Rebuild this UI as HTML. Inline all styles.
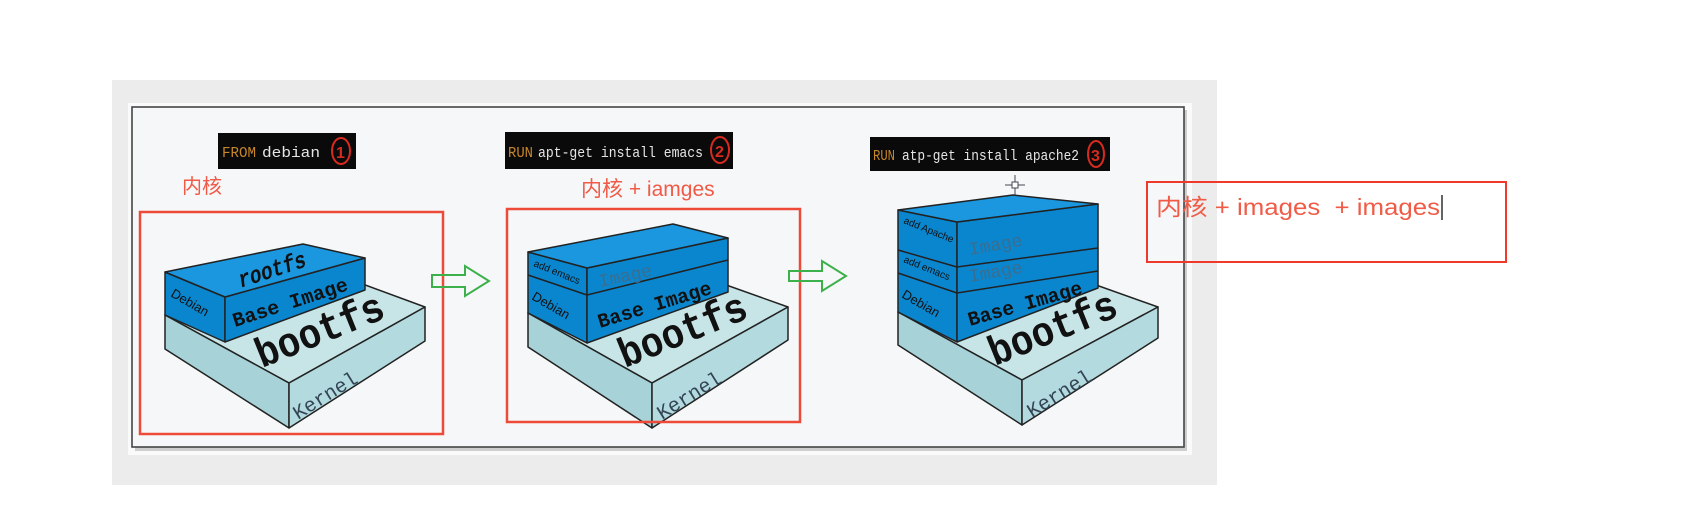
<!DOCTYPE html>
<html><head><meta charset="utf-8"><style>
html,body{margin:0;padding:0;background:#fff;width:1707px;height:522px;overflow:hidden}
</style></head><body>
<svg width="1707" height="522" viewBox="0 0 1707 522" xmlns="http://www.w3.org/2000/svg" font-family="Liberation Sans, Noto Sans CJK SC, sans-serif">
<rect x="112" y="80" width="1105" height="405" fill="#ececec"/>
<rect x="128" y="103" width="1064" height="352" fill="#fafafa"/>
<rect x="135" y="110" width="1052" height="341" fill="#b0b0b0" opacity="0.6"/>
<rect x="132" y="107" width="1052" height="340" fill="#f6f7f8" stroke="#444" stroke-width="1.6"/>

<!-- labels -->
<g font-family="Liberation Mono, monospace" font-size="15">
<rect x="218" y="133" width="138" height="36" fill="#0a0a0a"/>
<text x="222" y="157" fill="#c8862a" textLength="34" lengthAdjust="spacingAndGlyphs">FROM</text>
<text x="262" y="157" fill="#e6e6e6" textLength="58" lengthAdjust="spacingAndGlyphs">debian</text>
<ellipse cx="341" cy="151" rx="9" ry="13" fill="none" stroke="#d82a1e" stroke-width="2"/>
<text x="336" y="158" fill="#d82a1e" font-size="16" font-family="Liberation Sans, sans-serif" font-weight="bold">1</text>

<rect x="505" y="132" width="228" height="37" fill="#0a0a0a"/>
<text x="508" y="157" fill="#c8862a" textLength="25" lengthAdjust="spacingAndGlyphs">RUN</text>
<text x="538" y="157" fill="#e6e6e6" textLength="165" lengthAdjust="spacingAndGlyphs">apt-get install emacs</text>
<ellipse cx="720" cy="150" rx="9" ry="13" fill="none" stroke="#d82a1e" stroke-width="2"/>
<text x="715" y="157" fill="#d82a1e" font-size="16" font-family="Liberation Sans, sans-serif" font-weight="bold">2</text>

<rect x="870" y="137" width="240" height="34" fill="#0a0a0a"/>
<text x="873" y="160" fill="#c8862a" textLength="22" lengthAdjust="spacingAndGlyphs">RUN</text>
<text x="902" y="160" fill="#e6e6e6" textLength="177" lengthAdjust="spacingAndGlyphs">atp-get install apache2</text>
<ellipse cx="1096" cy="154" rx="8" ry="13" fill="none" stroke="#d82a1e" stroke-width="2"/>
<text x="1091" y="161" fill="#d82a1e" font-size="16" font-family="Liberation Sans, sans-serif" font-weight="bold">3</text>
</g>

<text x="182" y="193" fill="#f05a46" font-size="20">内核</text>
<text x="581" y="196" fill="#f05a46" font-size="21">内核 + iamges</text>

<!-- STAGE 1 -->
<g stroke="#222" stroke-width="1.5" stroke-linejoin="round">
<polygon points="165,315 289,383 425,307 303,262" fill="#c7e4e7"/>
<polygon points="165,315 289,383 289,428 165,349" fill="#a7d2d7"/>
<polygon points="289,383 425,307 425,341 289,428" fill="#b3dade"/>
</g>
<text transform="translate(262,368) rotate(-22)" font-family="Liberation Mono, monospace" font-size="42" font-weight="bold" fill="#111" textLength="135" lengthAdjust="spacingAndGlyphs">bootfs</text>
<g stroke="#222" stroke-width="1.5" stroke-linejoin="round">
<polygon points="165,272 225,297 225,342 165,315" fill="#0a86cf"/>
<polygon points="225,297 365,258 365,290 225,342" fill="#0a86cf"/>
<polygon points="165,272 225,297 365,258 303,244" fill="#1a97de"/>
</g>
<g font-family="Liberation Mono, monospace" fill="#111">
<text transform="translate(240,288) rotate(-18) skewX(-10)" font-size="24" font-weight="bold" textLength="70" lengthAdjust="spacingAndGlyphs">rootfs</text>
<text transform="translate(170,296) rotate(30)" font-size="13" font-family="Liberation Sans, sans-serif">Debian</text>
<text transform="translate(235,327) rotate(-18)" font-size="20" font-weight="bold" textLength="120" lengthAdjust="spacingAndGlyphs">Base Image</text>
<text transform="translate(298,420) rotate(-32)" font-size="20" fill="#345">Kernel</text>
</g>
<rect x="140" y="212" width="303" height="222" fill="none" stroke="#ee4a3a" stroke-width="2.5"/>
<polygon points="432,275 465,275 465,266 489,281 465,296 465,287 432,287" fill="none" stroke="#3cb04a" stroke-width="2"/>

<!-- STAGE 2 -->
<g stroke="#222" stroke-width="1.5" stroke-linejoin="round">
<polygon points="528,313 652,383 788,307 670,265" fill="#c7e4e7"/>
<polygon points="528,313 652,383 652,428 528,347" fill="#a7d2d7"/>
<polygon points="652,383 788,307 788,340 652,428" fill="#b3dade"/>
</g>
<text transform="translate(625,368) rotate(-22)" font-family="Liberation Mono, monospace" font-size="42" font-weight="bold" fill="#111" textLength="135" lengthAdjust="spacingAndGlyphs">bootfs</text>
<g stroke="#222" stroke-width="1.5" stroke-linejoin="round">
<polygon points="528,252 587,268 587,343 528,313" fill="#0a86cf"/>
<polygon points="587,268 728,238 728,292 587,343" fill="#0a86cf"/>
<polygon points="528,252 587,268 728,238 673,224" fill="#1a97de"/>
<polyline points="528,275 587,295 728,260" fill="none"/>
</g>
<g font-family="Liberation Mono, monospace" fill="#111">
<text transform="translate(533,266) rotate(22)" font-size="10" font-family="Liberation Sans, sans-serif">add emacs</text>
<text transform="translate(600,287) rotate(-12)" font-size="18" fill="#3a6e90">Image</text>
<text transform="translate(531,299) rotate(30)" font-size="13" font-family="Liberation Sans, sans-serif">Debian</text>
<text transform="translate(600,328) rotate(-17)" font-size="20" font-weight="bold" textLength="118" lengthAdjust="spacingAndGlyphs">Base Image</text>
<text transform="translate(662,420) rotate(-32)" font-size="20" fill="#345">Kernel</text>
</g>
<rect x="507" y="209" width="293" height="213" fill="none" stroke="#ee4a3a" stroke-width="2.5"/>
<polygon points="789,271 822,271 822,261 846,276 822,291 822,281 789,281" fill="none" stroke="#3cb04a" stroke-width="2"/>

<!-- STAGE 3 -->
<g stroke="#222" stroke-width="1.5" stroke-linejoin="round">
<polygon points="898,312 1022,380 1158,307 1040,265" fill="#c7e4e7"/>
<polygon points="898,312 1022,380 1022,425 898,345" fill="#a7d2d7"/>
<polygon points="1022,380 1158,307 1158,338 1022,425" fill="#b3dade"/>
</g>
<text transform="translate(995,366) rotate(-22)" font-family="Liberation Mono, monospace" font-size="42" font-weight="bold" fill="#111" textLength="135" lengthAdjust="spacingAndGlyphs">bootfs</text>
<g stroke="#222" stroke-width="1.5" stroke-linejoin="round">
<polygon points="898,210 957,222 957,342 898,312" fill="#0a86cf"/>
<polygon points="957,222 1098,204 1098,288 957,342" fill="#0a86cf"/>
<polygon points="898,210 957,222 1098,204 1013,195" fill="#1a97de"/>
<polyline points="898,250 957,267 1098,248" fill="none"/>
<polyline points="898,273 957,293 1098,271" fill="none"/>
</g>
<g font-family="Liberation Mono, monospace" fill="#111">
<text transform="translate(903,223) rotate(22)" font-size="10" font-family="Liberation Sans, sans-serif">add Apache</text>
<text transform="translate(970,255) rotate(-10)" font-size="18" fill="#3a6e90">Image</text>
<text transform="translate(903,262) rotate(22)" font-size="10" font-family="Liberation Sans, sans-serif">add emacs</text>
<text transform="translate(970,282) rotate(-10)" font-size="18" fill="#3a6e90">Image</text>
<text transform="translate(901,297) rotate(30)" font-size="13" font-family="Liberation Sans, sans-serif">Debian</text>
<text transform="translate(970,326) rotate(-16)" font-size="20" font-weight="bold" textLength="118" lengthAdjust="spacingAndGlyphs">Base Image</text>
<text transform="translate(1032,418) rotate(-32)" font-size="20" fill="#345">Kernel</text>
</g>
<g stroke="#445" stroke-width="1" fill="none">
<line x1="1015" y1="175" x2="1015" y2="195"/><line x1="1005" y1="185" x2="1025" y2="185"/>
<rect x="1012" y="182" width="6" height="6" fill="#fff"/>
</g>

<!-- right annotation -->
<rect x="1147" y="182" width="359" height="80" fill="none" stroke="#ee3a2a" stroke-width="2"/>
<text x="1156" y="215" fill="#f05a46" font-size="23" xml:space="preserve" textLength="284" lengthAdjust="spacingAndGlyphs">内核 + images  + images</text>
<line x1="1442" y1="195" x2="1442" y2="220" stroke="#111" stroke-width="1.3"/>
</svg>
</body></html>
